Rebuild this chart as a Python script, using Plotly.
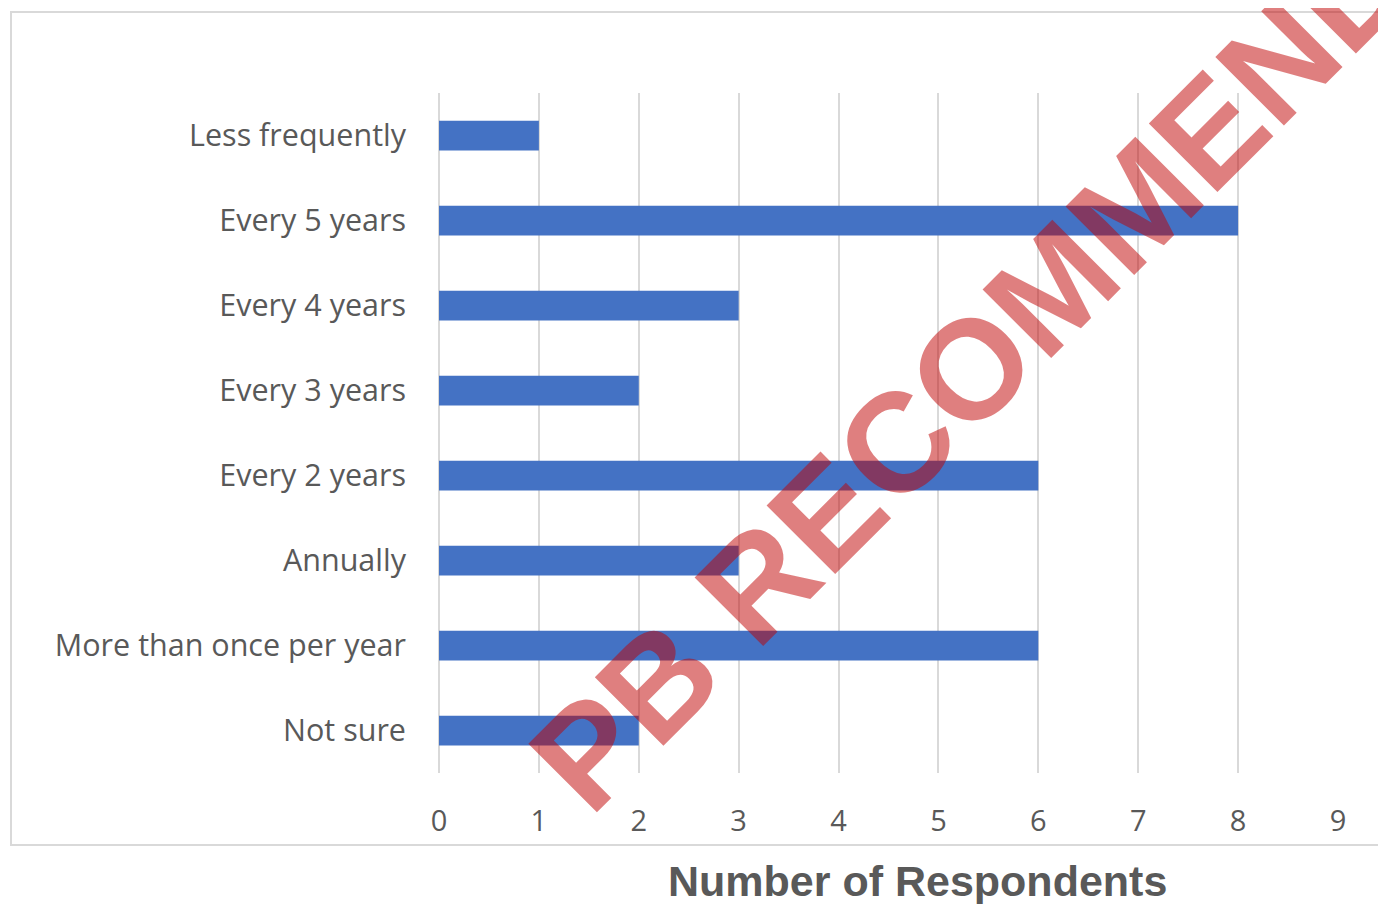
import plotly.graph_objects as go

categories = ["Not sure", "More than once per year", "Annually", "Every 2 years",
              "Every 3 years", "Every 4 years", "Every 5 years", "Less frequently"]
values = [2, 6, 3, 6, 2, 3, 8, 1]
x_ticks = [0, 1, 2, 3, 4, 5, 6, 7, 8, 9]
x_title = "Number of Respondents"
watermark = "PB RECOMMENDED"

OFF = 8  # default page body margin
W, H = 1386 - OFF, 904 - OFF
L, R, T, B = 439 - OFF, 1338 - OFF, 93 - OFF, 773 - OFF

def px(x):
    return (x - OFF - L) / (R - L)

def py(y):
    return (B - (y - OFF)) / (B - T)

fig = go.Figure(go.Bar(
    y=categories, x=values, orientation="h",
    marker=dict(color="#4472C4", line=dict(width=0)),
    width=0.35,
))

fig.update_layout(
    width=W, height=H,
    margin=dict(l=L, r=W - R, t=T, b=H - B),
    paper_bgcolor="white", plot_bgcolor="white",
    showlegend=False,
    xaxis=dict(range=[0, 9], tickvals=x_ticks, showgrid=True, gridcolor="#d9d9d9",
               gridwidth=2, zeroline=True, zerolinecolor="#d9d9d9", zerolinewidth=2,
               showline=False, ticks="", ticklabelstandoff=28,
               tickfont=dict(family="Open Sans", size=29, color="#595959")),
    yaxis=dict(range=[-0.5, 7.5], showgrid=False, zeroline=False, showline=False,
               ticks="", ticklabelstandoff=32,
               tickfont=dict(family="Open Sans", size=30.5, color="#595959")),
    shapes=[dict(type="rect", xref="paper", yref="paper",
                 x0=px(11), y0=py(845), x1=px(1400), y1=py(12),
                 line=dict(color="#d9d9d9", width=2), layer="below")],
    annotations=[
        dict(text=x_title, xref="paper", yref="paper", x=px(917), y=py(881),
             showarrow=False, xanchor="center", yanchor="middle",
             font=dict(family="Liberation Sans", size=43, color="#595959", weight="bold")),
        dict(text=watermark, xref="paper", yref="paper", x=px(1040), y=py(300),
             showarrow=False, xanchor="center", yanchor="middle", textangle=-45,
             font=dict(family="Liberation Sans", size=141, color="rgba(192,0,0,0.5)",
                       weight="bold")),
    ],
)

fig.write_html("out.html")
